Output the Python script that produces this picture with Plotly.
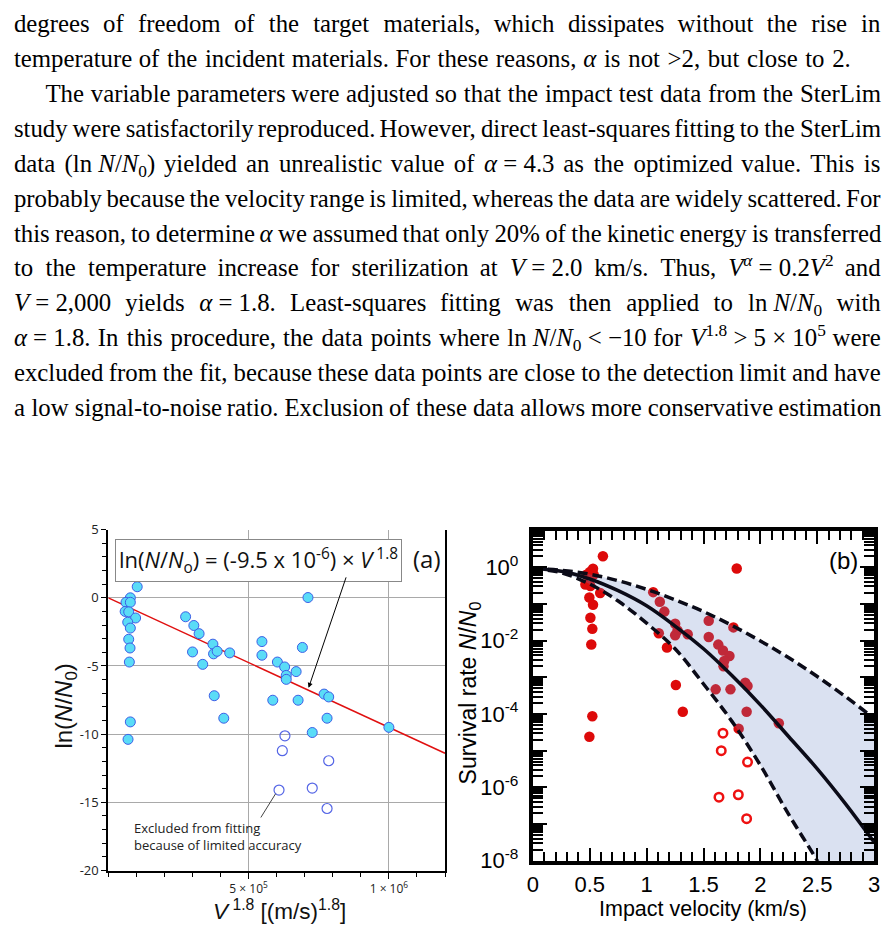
import re
import plotly.graph_objects as go

W, H = 893, 948

# ---------------- data: panel (a) ----------------
a_fit_x = [103e3, 78.5e3, 63e3, 78.5e3, 60e3, 72.7e3, 97.3e3, 69.2e3, 78.5e3, 72.7e3,
           77.4e3, 75e3, 275.5e3, 304.8e3, 323.6e3, 300.1e3, 372.8e3, 375.1e3, 388e3, 432.6e3,
           336.5e3, 377.5e3, 547.5e3, 547.5e3, 602.6e3, 628.4e3, 634.2e3, 634.2e3, 669.4e3, 691.7e3,
           711.6e3, 586.2e3, 676.4e3, 769.1e3, 785.5e3, 78.5e3, 70.3e3, 411.5e3, 726.8e3, 779.6e3,
           1000e3]
a_fit_y = [0.81, 0.0, -0.33, -0.33, -1.0, -1.03, -1.48, -1.79, -2.22, -3.04,
           -3.68, -4.71, -1.39, -2.03, -2.63, -3.97, -3.40, -4.11, -3.92, -4.04,
           -4.88, -7.18, -3.21, -4.21, -4.71, -5.07, -5.69, -5.98, -5.41, -3.64,
           0.02, -7.51, -7.51, -7.06, -7.27, -9.10, -10.38, -8.83, -9.88, -8.83,
           -9.5]
a_excl_x = [629.5e3, 620.2e3, 785.5e3, 608.4e3, 726.8e3, 779.6e3]
a_excl_y = [-10.12, -11.21, -11.95, -14.10, -13.95, -15.45]
a_line_x = [0, 1.2e6]
a_line_y = [0, -11.4]

# ---------------- data: panel (b) ----------------
b_pts_v = [0.616, 0.529, 0.50, 0.471, 0.535, 0.462, 0.506, 0.592, 0.497, 0.529,
           0.506, 0.523, 0.514, 0.523, 0.497, 1.058, 1.116, 1.156, 1.251, 1.272,
           1.251, 1.361, 1.107, 1.179, 1.257, 1.318, 1.792, 1.546, 1.763, 1.546,
           1.630, 1.671, 1.728, 1.682, 1.676, 1.867, 1.887, 1.607, 1.737, 1.879,
           2.162, 1.809]
b_pts_s = [2.0, 0.91, 0.74, 0.63, 0.63, 0.34, 0.31, 0.20, 0.15, 0.095,
           0.042, 0.021, 0.0079, 8.7e-5, 2.4e-5, 0.21, 0.115, 0.062, 0.029, 0.019,
           0.014, 0.015, 0.016, 0.0065, 6.2e-4, 1.15e-4, 0.93, 0.035, 0.023, 0.0126,
           0.0078, 0.0054, 0.0038, 0.0028, 0.0020, 7.1e-4, 5.8e-4, 4.7e-4, 4.7e-4, 1.15e-4,
           5.6e-5, 4.0e-5]
b_open_v = [1.671, 1.656, 1.887, 1.636, 1.806, 1.879]
b_open_s = [3.0e-5, 1.0e-5, 4.9e-6, 5.4e-7, 6.3e-7, 1.4e-7]

curve_v = [0, 0.25, 0.5, 0.75, 1.0, 1.25, 1.5, 1.75, 2.0, 2.25, 2.5, 2.75, 3.0]
curve_mid = [0.93, 0.78, 0.48, 0.23, 0.089, 0.025, 0.0060, 1.12e-3, 1.78e-4, 2.4e-5, 3.2e-6, 3.5e-7, 3.2e-8]
curve_up = [0.93, 0.83, 0.65, 0.43, 0.25, 0.13, 0.062, 0.026, 0.0098, 0.0034, 1.05e-3, 2.95e-4, 7.6e-5]
curve_lo = [0.93, 0.71, 0.35, 0.12, 0.030, 0.0060, 6.6e-4, 6.3e-5, 4.0e-6, 1.8e-7, 1.0e-8, 4.0e-10, 1.0e-11]

b_yticks = [1e-8, 1e-7, 1e-6, 1e-5, 1e-4, 1e-3, 1e-2, 1e-1, 1e0, 1e1]
b_yticktext = ["10<sup>-8</sup>", "", "10<sup>-6</sup>", "", "10<sup>-4</sup>", "",
               "10<sup>-2</sup>", "", "10<sup>0</sup>", ""]

# ---------------- paragraph text ----------------
para_lines = [
    "degrees of freedom of the target materials, which dissipates without the rise in",
    "temperature of the incident materials. For these reasons, <i>α</i> is not &gt;2, but close to 2.",
    "The variable parameters were adjusted so that the impact test data from the SterLim",
    "study were satisfactorily reproduced. However, direct least-squares fitting to the SterLim",
    "data (ln~<i>N</i>/<i>N</i><sub>0</sub>) yielded an unrealistic value of <i>α</i>~=~4.3 as the optimized value. This is",
    "probably because the velocity range is limited, whereas the data are widely scattered. For",
    "this reason, to determine <i>α</i> we assumed that only 20% of the kinetic energy is transferred",
    "to the temperature increase for sterilization at <i>V</i>~=~2.0 km/s. Thus, <i>V</i><sup><i>α</i></sup>~=~0.2<i>V</i><sup>2</sup> and",
    "<i>V</i>~=~2,000 yields <i>α</i>~=~1.8. Least-squares fitting was then applied to ln~<i>N</i>/<i>N</i><sub>0</sub> with",
    "<i>α</i>~=~1.8. In this procedure, the data points where ln~<i>N</i>/<i>N</i><sub>0</sub>~&lt;~−10 for <i>V</i><sup>1.8</sup>~&gt;~5~×~10<sup>5</sup> were",
    "excluded from the fit, because these data points are close to the detection limit and have",
    "a low signal-to-noise ratio. Exclusion of these data allows more conservative estimation",
]
para_right = [886, 856, 886, 886, 886, 886, 886, 886, 886, 886, 886, 886]
para_indent = [False, False, True, False, False, False, False, False, False, False, False, False]

# ---------------- text layout helpers ----------------
TFS = 24.8
TW = {' ': 250, 'a': 444, 'b': 500, 'c': 444, 'd': 500, 'e': 444, 'f': 333, 'g': 500, 'h': 500,
      'i': 278, 'j': 278, 'k': 500, 'l': 278, 'm': 778, 'n': 500, 'o': 500, 'p': 500, 'q': 500,
      'r': 333, 's': 389, 't': 278, 'u': 500, 'v': 500, 'w': 722, 'x': 500, 'y': 500, 'z': 444,
      'A': 722, 'B': 667, 'C': 667, 'D': 722, 'E': 611, 'F': 556, 'G': 722, 'H': 722, 'I': 333,
      'J': 389, 'K': 722, 'L': 611, 'M': 889, 'N': 722, 'O': 722, 'P': 556, 'Q': 722, 'R': 667,
      'S': 556, 'T': 611, 'U': 722, 'V': 722, 'W': 944, 'X': 722, 'Y': 722, 'Z': 611,
      '.': 250, ',': 250, '-': 333, '(': 333, ')': 333, '%': 833, '=': 564, '<': 564, '>': 564,
      '×': 564, '−': 564, '/': 278, ':': 278, 'α': 520}
for d in '0123456789':
    TW[d] = 500
ITAL = {'V': 611, 'N': 667, 'α': 520}


def measure(tok, fs):
    ital, scale, w = False, 1.0, 0.0
    for m in re.finditer(r'<(/?)(i|sub|sup)>|&lt;|&gt;|.', tok):
        s = m.group(0)
        if m.group(2):
            closing = m.group(1) == '/'
            if m.group(2) == 'i':
                ital = not closing
            else:
                scale = 1.0 if closing else 0.7
            continue
        ch = {'&lt;': '<', '&gt;': '>', '~': ' '}.get(s, s)
        base = ITAL[ch] if (ital and ch in ITAL) else TW.get(ch, 500)
        w += base * scale
    return w * fs / 1000.0


wx, wy, wt = [], [], []
for i, line in enumerate(para_lines):
    toks = line.split(' ')
    ws = [measure(t, TFS) for t in toks]
    x0 = 40 if para_indent[i] else 8
    gap = (para_right[i] - x0 - sum(ws)) / (len(toks) - 1)
    gap = max(gap, 0.18 * TFS)
    x = x0
    yc = 17.5 + i * 35.7
    for t, w in zip(toks, ws):
        wx.append(x)
        wy.append(yc)
        wt.append(t.replace('~', ' '))
        x += w + gap


def pxx(x):
    return x / W


def pyy(y):
    return 1 - y / H


fig = go.Figure()

# ---- panel (a) ----
fig.add_trace(go.Scatter(x=a_line_x, y=a_line_y, mode='lines', line=dict(color='#e01010', width=1.5),
                         xaxis='x', yaxis='y', hoverinfo='skip', showlegend=False))
fig.add_trace(go.Scatter(x=a_excl_x, y=a_excl_y, mode='markers',
                         marker=dict(symbol='circle-open', size=10, color='#5566e6', line=dict(width=1.2)),
                         xaxis='x', yaxis='y', showlegend=False))
fig.add_trace(go.Scatter(x=a_fit_x, y=a_fit_y, mode='markers',
                         marker=dict(size=10, color='#5adcf7', line=dict(color='#3d5ee6', width=1)),
                         xaxis='x', yaxis='y', showlegend=False))

# ---- panel (b) ----
fig.add_trace(go.Scatter(x=b_pts_v, y=b_pts_s, mode='markers',
                         marker=dict(size=10.5, color='#dd0a0a'),
                         xaxis='x2', yaxis='y2', showlegend=False))
fig.add_trace(go.Scatter(x=b_open_v, y=b_open_s, mode='markers',
                         marker=dict(symbol='circle-open', size=8.5, color='#ee1111', line=dict(width=2.5)),
                         xaxis='x2', yaxis='y2', showlegend=False))
fig.add_trace(go.Scatter(x=curve_v, y=curve_up, mode='lines', line=dict(width=0, shape='spline'),
                         xaxis='x2', yaxis='y2', hoverinfo='skip', showlegend=False))
fig.add_trace(go.Scatter(x=curve_v, y=curve_lo, mode='lines', line=dict(width=0, shape='spline'),
                         fill='tonexty', fillcolor='rgba(107,135,199,0.25)',
                         xaxis='x2', yaxis='y2', hoverinfo='skip', showlegend=False))
for ys in (curve_up, curve_lo):
    fig.add_trace(go.Scatter(x=curve_v, y=ys, mode='lines',
                             line=dict(color='#0b0b18', width=3.5, dash='10px,5px', shape='spline'),
                             xaxis='x2', yaxis='y2', hoverinfo='skip', showlegend=False))
fig.add_trace(go.Scatter(x=curve_v, y=curve_mid, mode='lines',
                         line=dict(color='#0b0b18', width=3.5, shape='spline'),
                         xaxis='x2', yaxis='y2', hoverinfo='skip', showlegend=False))

# ---- paragraph words on a full-page pixel axis ----
fig.add_trace(go.Scatter(x=wx, y=wy, text=wt, mode='text', textposition='middle right',
                         textfont=dict(family='Liberation Serif', size=TFS, color='black'),
                         xaxis='x3', yaxis='y3', hoverinfo='skip', showlegend=False, cliponaxis=False))

gridc = '#a9a9a9'
fig.update_layout(
    width=W, height=H, autosize=False,
    margin=dict(l=0, r=0, t=0, b=0),
    paper_bgcolor='white', plot_bgcolor='rgba(0,0,0,0)',
    showlegend=False,
    xaxis=dict(domain=[pxx(103.7), pxx(445)], range=[0, 1.2e6], anchor='y',
               showline=True, linecolor='black', linewidth=2,
               ticks='outside', ticklen=6, tickwidth=1, tickcolor='black',
               tickvals=[5e5, 1e6], ticktext=['5 × 10<sup>5</sup>', '1 × 10<sup>6</sup>'],
               tickfont=dict(family='Open Sans', size=12, color='#222'),
               showgrid=True, gridcolor=gridc, gridwidth=1, zeroline=False,
               minor=dict(ticks='outside', dtick=1e5, tick0=0, ticklen=4, tickcolor='black', showgrid=False)),
    yaxis=dict(domain=[pyy(882), pyy(533)], range=[-20, 5], anchor='x',
               showline=True, mirror=True, linecolor='black', linewidth=2,
               ticks='outside', ticklen=5, tickwidth=1, tickcolor='black',
               tickvals=[5, 0, -5, -10, -15, -20], ticktext=['5', '0', '-5', '-10', '-15', '-20'],
               tickfont=dict(family='Open Sans', size=13, color='#222'),
               showgrid=True, gridcolor=gridc, gridwidth=1, zeroline=False,
               minor=dict(ticks='outside', dtick=1, tick0=0, ticklen=4, tickcolor='black', showgrid=False)),
    xaxis2=dict(domain=[pxx(534), pxx(880)], range=[0, 3], anchor='y2',
                showline=True, mirror='allticks', linecolor='black', linewidth=4,
                ticks='inside', ticklen=13, tickwidth=2, tickcolor='black',
                tickmode='linear', tick0=0, dtick=0.5,
                tickfont=dict(family='Liberation Sans', size=22, color='black'),
                showgrid=False, zeroline=False, ticklabelstandoff=1,
                minor=dict(ticks='inside', tick0=0, dtick=0.1, ticklen=9, tickwidth=2, tickcolor='black', showgrid=False)),
    yaxis2=dict(domain=[pyy(872), pyy(534)], type='log', range=[-8, 1], anchor='x2',
                showline=True, mirror='allticks', linecolor='black', linewidth=4,
                ticks='inside', ticklen=14, tickwidth=2, tickcolor='black',
                tickmode='array', tickvals=b_yticks, ticktext=b_yticktext,
                tickfont=dict(family='Liberation Sans', size=22, color='black'),
                showgrid=False, zeroline=False, ticklabelstandoff=6,
                minor=dict(ticks='inside', tickmode='array',
                           tickvals=[k * 10.0 ** e for e in range(-8, 1) for k in range(2, 10)],
                           ticklen=10, tickwidth=1.5, tickcolor='black', showgrid=False)),
    xaxis3=dict(domain=[0, 1], range=[0, W], anchor='y3', visible=False, fixedrange=True),
    yaxis3=dict(domain=[0, 1], range=[H, 0], anchor='x3', visible=False, fixedrange=True),
)

ann = []
# panel (a) annotations
ann.append(dict(x=pxx(256), y=pyy(564.5), xref='paper', yref='paper', showarrow=False,
                text='ln(<i>N</i>/<i>N</i><sub>o</sub>) = (-9.5 x 10<sup>-6</sup>) × <i>V</i><sup> 1.8</sup>',
                font=dict(family='Open Sans', size=22, color='#111'),
                bgcolor='white', bordercolor='#888', borderwidth=1, borderpad=3,
                xanchor='center', yanchor='middle'))
ann.append(dict(x=pxx(427), y=pyy(563), xref='paper', yref='paper', showarrow=False, text='(a)',
                font=dict(family='Open Sans', size=24, color='#111'), xanchor='center', yanchor='middle'))
ann.append(dict(x=pxx(306.7), y=pyy(695), xref='paper', yref='paper', text='', showarrow=True,
                ax=38, ay=-112, arrowhead=2, arrowsize=1, arrowwidth=1, arrowcolor='black'))
ann.append(dict(x=pxx(129), y=pyy(847), xref='paper', yref='paper', showarrow=False,
                text='Excluded from fitting<br>because of limited accuracy', align='left',
                font=dict(family='Open Sans', size=13, color='#222'), xanchor='left', yanchor='middle',
                borderpad=0))
ann.append(dict(x=pxx(277), y=pyy(922), xref='paper', yref='paper', showarrow=False,
                text='<i>V</i><sup> 1.8</sup> [(m/s)<sup>1.8</sup>]',
                font=dict(family='Liberation Sans', size=22.5, color='#111'), xanchor='center', yanchor='middle'))
ann.append(dict(x=pxx(60), y=pyy(714), xref='paper', yref='paper', showarrow=False, textangle=-90,
                text='ln(<i>N</i>/<i>N</i><sub>0</sub>)',
                font=dict(family='Liberation Sans', size=24, color='#111'), xanchor='center', yanchor='middle'))
# panel (b) annotations
ann.append(dict(x=pxx(849), y=pyy(565), xref='paper', yref='paper', showarrow=False, text='(b)',
                font=dict(family='Liberation Sans', size=24, color='black'), xanchor='center', yanchor='middle'))
ann.append(dict(x=pxx(707), y=pyy(921), xref='paper', yref='paper', showarrow=False,
                text='Impact velocity (km/s)',
                font=dict(family='Liberation Sans', size=21.5, color='black'), xanchor='center', yanchor='middle'))
ann.append(dict(x=pxx(470), y=pyy(700), xref='paper', yref='paper', showarrow=False, textangle=-90,
                text='Survival rate <i>N</i>/<i>N</i><sub>0</sub>',
                font=dict(family='Liberation Sans', size=23, color='black'), xanchor='center', yanchor='middle'))
fig.update_layout(annotations=ann)

fig.add_shape(type='line', xref='paper', yref='paper', x0=pxx(258.3), y0=pyy(827.7), x1=pxx(273.3), y1=pyy(803.3),
              line=dict(color='#444', width=1))

fig.write_html('out.html')
